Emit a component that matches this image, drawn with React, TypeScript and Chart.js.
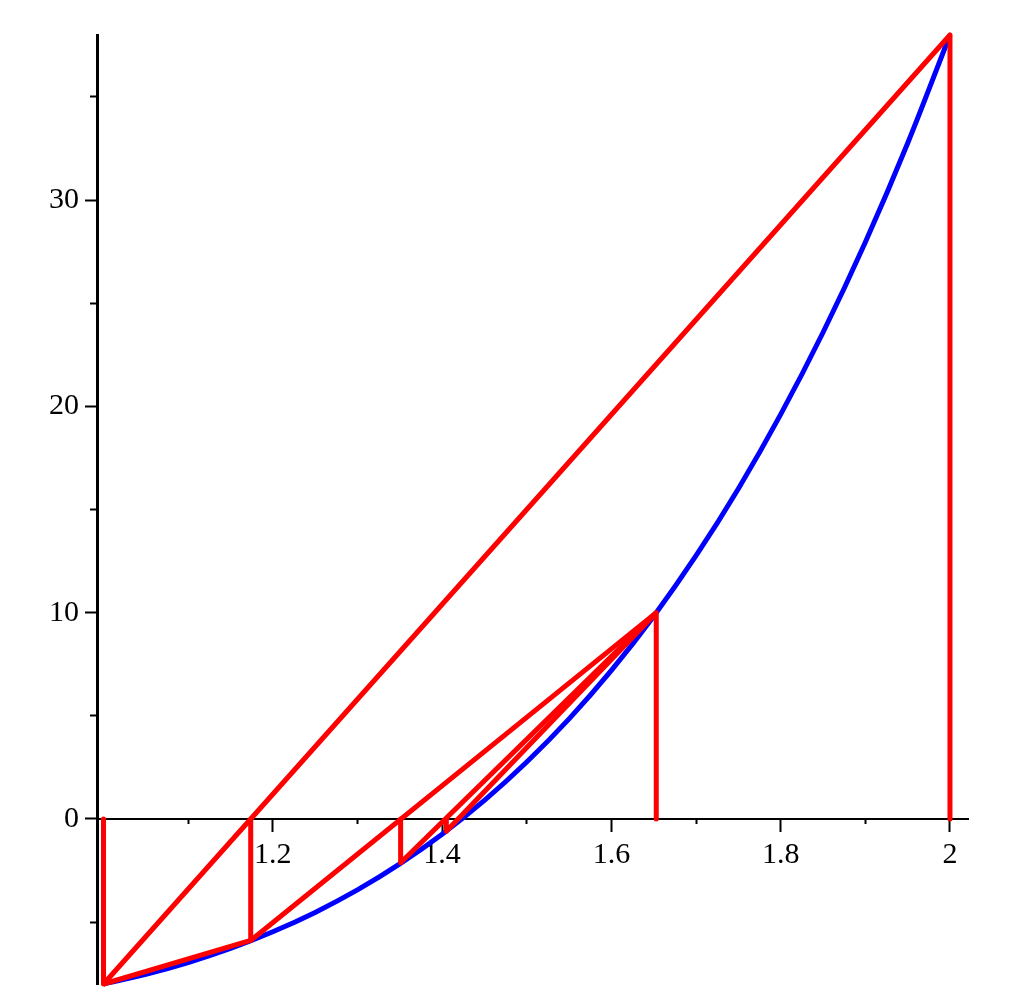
import { useEffect, useRef } from "react";
import { Chart, registerables } from "chart.js";

Chart.register(...registerables);

// View window
const X_MIN = 0.9923;
const X_MAX = 2.0213;
const Y_MIN = -8;
const Y_MAX = 38;

// Blue curve f(x)
const CURVE_X = [1, 1.05, 1.1, 1.15, 1.2, 1.25, 1.3, 1.35, 1.4, 1.45, 1.5, 1.55, 1.6, 1.65, 1.7, 1.75, 1.8, 1.85, 1.9, 1.95, 2];
const CURVE_Y = [-8, -7.53, -6.96, -6.28, -5.47, -4.53, -3.44, -2.18, -0.74, 0.9, 2.76, 4.85, 7.2, 9.83, 12.76, 16.01, 19.61, 23.58, 27.95, 32.75, 38];

// Iterates of the secant / false-position construction
const ITER_X = [1, 2, 1.1739, 1.653, 1.351, 1.405];
const ITER_Y = [-8, 38, -5.89, 10, -2.12, -0.6];

// Ticks
const X_MAJOR = [1.2, 1.4, 1.6, 1.8, 2];
const X_LABELS = ["1.2", "1.4", "1.6", "1.8", "2"];
const X_MINOR = [1.1, 1.3, 1.5, 1.7, 1.9];
const Y_MAJOR = [0, 10, 20, 30];
const Y_LABELS = ["0", "10", "20", "30"];
const Y_MINOR = [-5, 5, 15, 25, 35];

const FONT = { family: "'Liberation Serif', 'Times New Roman', serif", size: 30 };

const pt = (i: number) => ({ x: ITER_X[i], y: ITER_Y[i] });
const foot = (i: number) => ({ x: ITER_X[i], y: 0 });

const RED_PATHS = [
  [foot(0), pt(0), pt(1), foot(1)],
  [pt(0), pt(2), pt(3), foot(3)],
  [foot(2), pt(2)],
  [foot(4), pt(4), pt(3)],
  [foot(5), pt(5), pt(3)],
];

const zeroPad = (scale: any) => {
  scale.paddingTop = 0;
  scale.paddingBottom = 0;
  scale.paddingLeft = 0;
  scale.paddingRight = 0;
};

export default function App() {
  const ref = useRef<HTMLCanvasElement | null>(null);

  useEffect(() => {
    document.body.style.margin = "0";
    if (!ref.current) return;

    const redSets = RED_PATHS.map((p) => ({
      data: p,
      showLine: true,
      borderColor: "#ff0000",
      backgroundColor: "#ff0000",
      borderWidth: 5,
      pointRadius: 0,
      borderJoinStyle: "round" as const,
      clip: 12,
      xAxisID: "x",
      yAxisID: "y",
    }));

    const blue = {
      data: CURVE_X.map((x, i) => ({ x, y: CURVE_Y[i] })),
      showLine: true,
      borderColor: "#0000ff",
      backgroundColor: "#0000ff",
      borderWidth: 5,
      pointRadius: 0,
      cubicInterpolationMode: "monotone" as const,
      clip: 12,
      xAxisID: "x",
      yAxisID: "y",
    };

    const chart = new Chart(ref.current, {
      type: "scatter",
      data: { datasets: [...redSets, blue] as any },
      options: {
        animation: false,
        responsive: false,
        devicePixelRatio: 1,
        events: [],
        layout: { padding: { left: 0, right: 41, top: 35, bottom: 21 } },
        plugins: { legend: { display: false }, tooltip: { enabled: false } },
        scales: {
          x: {
            type: "linear",
            min: X_MIN,
            max: X_MAX,
            position: { y: 0 } as any,
            z: 1,
            afterBuildTicks: (s: any) => {
              s.ticks = X_MAJOR.map((value) => ({ value }));
            },
            afterFit: zeroPad,
            ticks: {
              autoSkip: false,
              maxRotation: 0,
              padding: 6,
              color: "#000",
              font: FONT,
              callback: (_v: any, i: number) => X_LABELS[i],
            },
            grid: { drawOnChartArea: false, drawTicks: true, tickLength: 12, tickWidth: 2, tickColor: "#000" },
            border: { display: true, color: "#000", width: 2 },
          },
          x2: {
            type: "linear",
            min: X_MIN,
            max: X_MAX,
            position: { y: 0 } as any,
            z: 1,
            afterBuildTicks: (s: any) => {
              s.ticks = X_MINOR.map((value) => ({ value }));
            },
            afterFit: zeroPad,
            ticks: { autoSkip: false, maxRotation: 0, font: { size: 1 }, callback: () => "" },
            grid: { drawOnChartArea: false, drawTicks: true, tickLength: 5, tickWidth: 2, tickColor: "#000" },
            border: { display: false },
          },
          y: {
            type: "linear",
            min: Y_MIN,
            max: Y_MAX,
            position: "left",
            z: 1,
            afterBuildTicks: (s: any) => {
              s.ticks = Y_MAJOR.map((value) => ({ value }));
            },
            afterFit: (s: any) => {
              s.width = 97;
              zeroPad(s);
            },
            ticks: {
              autoSkip: false,
              padding: 6,
              color: "#000",
              font: FONT,
              callback: (_v: any, i: number) => Y_LABELS[i],
            },
            grid: { drawOnChartArea: false, drawTicks: true, tickLength: 12, tickWidth: 2, tickColor: "#000" },
            border: { display: true, color: "#000", width: 3 },
          },
          y2: {
            type: "linear",
            min: Y_MIN,
            max: Y_MAX,
            position: { x: X_MIN } as any,
            z: 1,
            afterBuildTicks: (s: any) => {
              s.ticks = Y_MINOR.map((value) => ({ value }));
            },
            afterFit: zeroPad,
            ticks: { autoSkip: false, font: { size: 1 }, callback: () => "" },
            grid: { drawOnChartArea: false, drawTicks: true, tickLength: 7, tickWidth: 2, tickColor: "#000" },
            border: { display: false },
          },
        },
      } as any,
    });

    return () => chart.destroy();
  }, []);

  return <canvas ref={ref} width={1009} height={1005} style={{ display: "block" }} />;
}
